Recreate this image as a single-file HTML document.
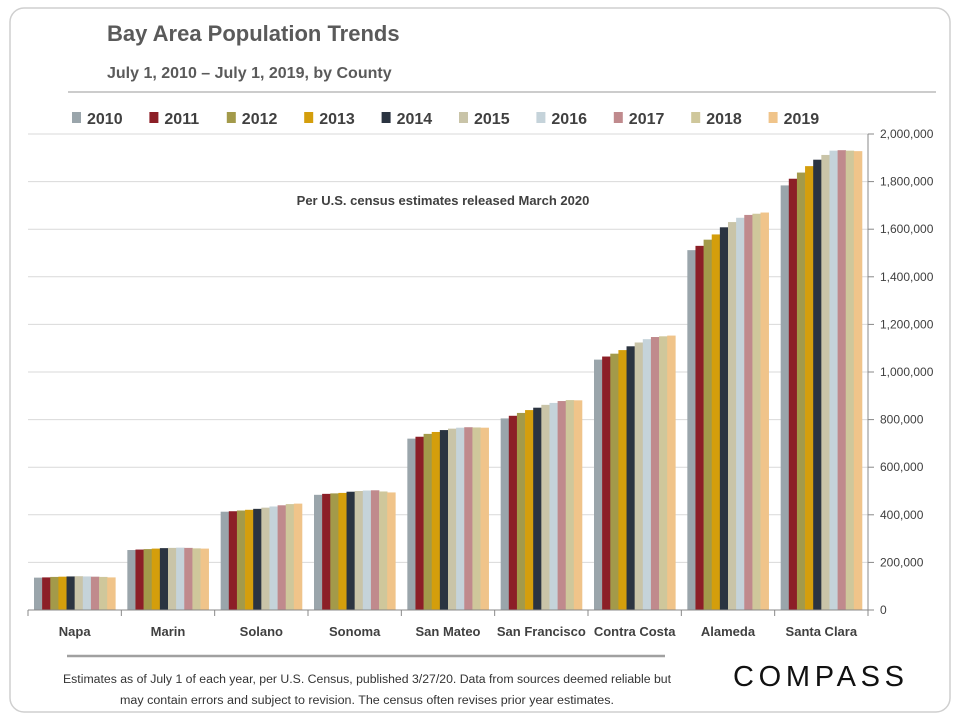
<!DOCTYPE html>
<html><head><meta charset="utf-8"><style>
body{margin:0;background:#fff;font-family:"Liberation Sans",sans-serif;}
svg text{font-family:"Liberation Sans",sans-serif;}
</style></head><body>
<svg id="chart" width="960" height="720">
<rect x="10" y="8" width="940" height="704" rx="14" fill="#fff" stroke="#cfcfcf" stroke-width="1.5"/>
<text x="107" y="41" font-size="22" font-weight="bold" fill="#5a5a5a">Bay Area Population Trends</text>
<text x="107" y="78" font-size="16" font-weight="bold" fill="#5a5a5a">July 1, 2010 – July 1, 2019, by County</text>
<line x1="68" y1="92" x2="936" y2="92" stroke="#bbb" stroke-width="1.5"/>
<g id="grid"></g><g id="bars"></g><g id="axes"></g><g id="legend"></g>
<text x="443" y="205" font-size="13" font-weight="bold" fill="#404040" text-anchor="middle">Per U.S. census estimates released March 2020</text>
<line x1="67" y1="656" x2="665" y2="656" stroke="#a0a0a0" stroke-width="2.5"/>
<text x="367" y="683" font-size="11.5" fill="#333" text-anchor="middle" textLength="608" lengthAdjust="spacingAndGlyphs">Estimates as of July 1 of each year, per U.S. Census, published  3/27/20. Data from sources deemed reliable but</text>
<text x="367" y="704" font-size="11.5" fill="#333" text-anchor="middle" textLength="494" lengthAdjust="spacingAndGlyphs">may contain errors and subject to revision.  The census often revises prior year estimates.</text>
<text x="820" y="686" font-size="29" fill="#111" text-anchor="middle" letter-spacing="3" textLength="174">COMPASS</text>
</svg>
<script>
const categories=["Napa","Marin","Solano","Sonoma","San Mateo","San Francisco","Contra Costa","Alameda","Santa Clara"];
const years=["2010","2011","2012","2013","2014","2015","2016","2017","2018","2019"];
const colors=["#9aa5ab","#8c1f27","#a39a4a","#d49e0c","#2b3441","#c9c4a8","#c5d3da","#c08a8d","#cfc79b","#f0c48a"];
const napa=[136,137,139,140,141,142,141,140,139,137];
const marin=[252,254,256,258,260,261,262,261,259,258];
const solano=[413,415,418,421,425,430,435,440,445,447];
const sonoma=[484,488,490,492,497,500,502,503,498,494];
const sanMateo=[720,728,740,748,756,762,766,768,767,766];
const sanFrancisco=[805,816,828,840,850,862,870,878,882,881];
const contraCosta=[1052,1065,1077,1092,1108,1124,1138,1147,1150,1153];
const alameda=[1512,1530,1556,1578,1608,1630,1648,1660,1665,1670];
const santaClara=[1784,1812,1838,1865,1892,1912,1930,1932,1930,1928];
const seriesByCounty=[napa,marin,solano,sonoma,sanMateo,sanFrancisco,contraCosta,alameda,santaClara];
const yTicks=[0,200,400,600,800,1000,1200,1400,1600,1800,2000];
const yTickLabels=["0","200,000","400,000","600,000","800,000","1,000,000","1,200,000","1,400,000","1,600,000","1,800,000","2,000,000"];
const NS="http://www.w3.org/2000/svg";
const L=28,R=868,T=134,B=610,yMax=2000;
const y=v=>B-(v/yMax)*(B-T);
const bw=(R-L)/categories.length;
const xc=i=>L+bw*i;
function mk(tag,attrs,parent){const e=document.createElementNS(NS,tag);for(const k in attrs)e.setAttribute(k,attrs[k]);document.getElementById(parent).appendChild(e);return e;}
yTicks.forEach((t,i)=>{
 if(t>0){const g=mk('line',{x1:L,x2:R,y1:y(t),y2:y(t),stroke:'#d9d9d9','stroke-width':1},'grid');
 
 }
 const tk=mk('line',{x1:R,x2:R+6,y1:y(t),y2:y(t),stroke:'#888'},'axes');
 
 
 const lb=mk('text',{x:R+12,y:y(t)+4,'font-size':12,fill:'#404040'},'axes');
 lb.textContent=yTickLabels[i];
 
 
});
const ax=mk('line',{x1:R,x2:R,y1:T,y2:B,stroke:'#888'},'axes');


const xa=mk('line',{x1:L,x2:R,y1:B,y2:B,stroke:'#888'},'axes');


const pad=6,barW=(bw-2*pad)/years.length;
categories.forEach((c,ci)=>{
 const t=mk('line',{x1:xc(ci),x2:xc(ci),y1:B,y2:B+6,stroke:'#888'},'axes');
 
 
 seriesByCounty[ci].forEach((v,yi)=>{
  const r=mk('rect',{x:xc(ci)+pad+yi*barW,y:y(v),width:barW+0.3,height:B-y(v),fill:colors[yi]},'bars');
  
  
 });
 const lb=mk('text',{x:xc(ci)+bw/2,y:636,'font-size':13,'font-weight':'bold',fill:'#404040','text-anchor':'middle'},'axes');
 lb.textContent=c;
 
 
});
const r2=mk('line',{x1:R,x2:R,y1:B,y2:B+6,stroke:'#888'},'axes');


years.forEach((yr,i)=>{
 const x0=72+i*77.4;
 const sw=mk('rect',{x:x0,y:112,width:9,height:11,fill:colors[i]},'legend');
 
 
 const tx=mk('text',{x:x0+15,y:124,'font-size':16,'font-weight':'bold',fill:'#404040'},'legend');
 tx.textContent=yr;
 
 
});
</script>
</body></html>
